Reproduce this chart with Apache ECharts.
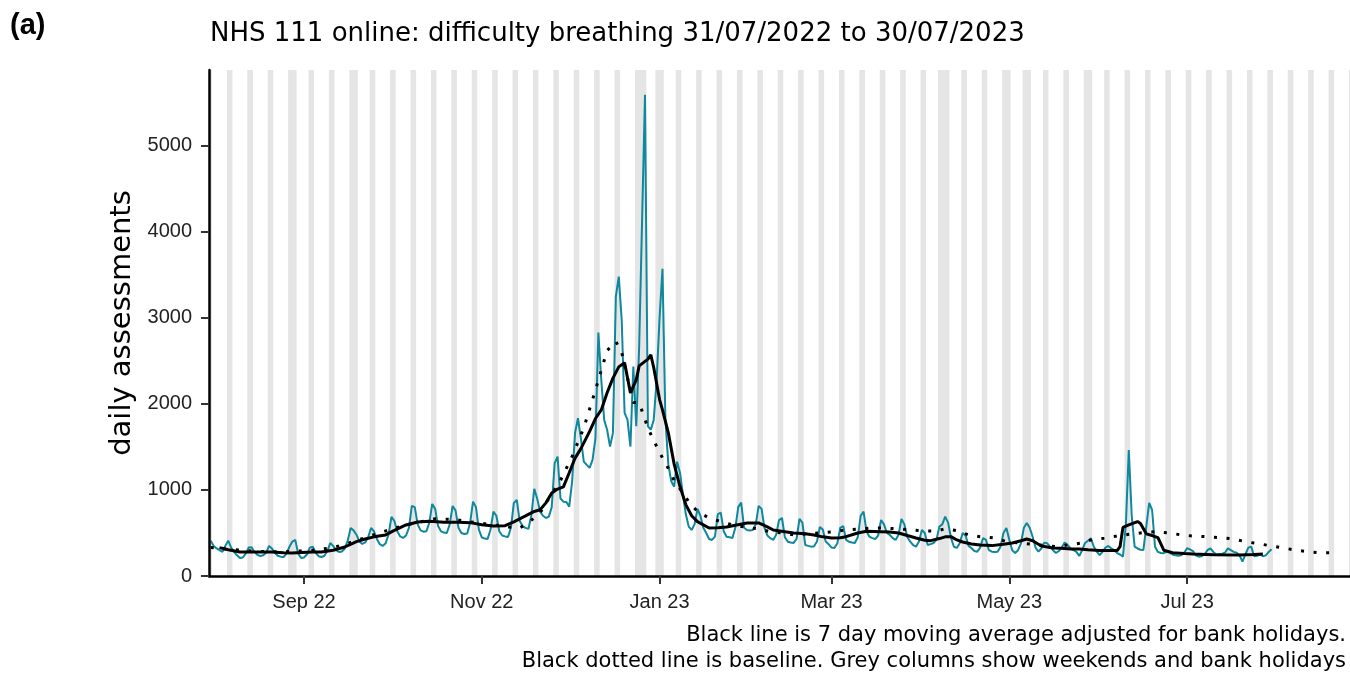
<!DOCTYPE html>
<html>
<head>
<meta charset="utf-8">
<script src="https://cdn.jsdelivr.net/npm/echarts@6/dist/echarts.min.js"></script>
<style>
  html, body { margin: 0; padding: 0; background: #fff; }
  #chart { width: 1350px; height: 674px; }
</style>
</head>
<body>
<div id="chart"></div>
<script>
// day 0 = Sun 31/07/2022; daily values then one row per week (Mon..Sun)
const startDate = '2022-07-31';
const daily = [
  410,
  350, 320, 300, 280, 350, 410, 330,
  280, 240, 210, 215, 260, 330, 335,
  280, 245, 233, 240, 270, 350, 320,
  270, 235, 225, 221, 260, 340, 400,
  419, 260, 209, 215, 250, 330, 341,
  270, 230, 221, 235, 290, 383, 350,
  300, 279, 285, 320, 410, 558, 530,
  480, 400, 372, 390, 450, 558, 520,
  430, 370, 349, 380, 480, 686, 640,
  520, 460, 442, 470, 560, 814, 800,
  600, 530, 515, 520, 620, 837, 780,
  580, 520, 505, 500, 600, 814, 760,
  560, 500, 488, 495, 620, 864, 800,
  540, 450, 435, 430, 540, 748, 700,
  520, 470, 460, 453, 560, 850, 884,
  640, 580, 560, 547, 700, 1012, 900,
  748, 700, 674, 690, 800, 1310, 1387,
  900, 864, 860, 806, 1100, 1663, 1833,
  1600, 1330, 1291, 1256, 1350, 1600, 2829,
  2279, 1814, 1700, 1504, 1663, 3248, 3480,
  2977, 1895, 1814, 1504, 2434, 1740, 2666,
  4130, 5593, 1740, 1700, 1814, 2279, 3000,
  3570, 1814, 1300, 1100, 1038, 1329, 1200,
  950, 720, 574, 535, 600, 779, 700,
  560, 500, 430, 419, 457, 720, 736,
  520, 457, 450, 442, 560, 800, 853,
  560, 535, 530, 535, 600, 814, 780,
  558, 470, 440, 419, 480, 650, 674,
  450, 399, 390, 384, 430, 663, 620,
  360, 350, 341, 345, 400, 570, 540,
  400, 370, 330, 326, 380, 560, 581,
  420, 399, 390, 384, 450, 700, 748,
  520, 457, 440, 430, 470, 651, 600,
  500, 477, 440, 419, 480, 663, 600,
  450, 399, 360, 341, 400, 535, 500,
  360, 370, 384, 420, 574, 600, 690,
  620, 442, 340, 326, 380, 500, 470,
  350, 326, 290, 283, 330, 442, 420,
  300, 283, 280, 283, 340, 500, 558,
  420, 300, 267, 300, 380, 560, 616,
  560, 457, 330, 283, 320, 388, 380,
  341, 300, 267, 290, 330, 388, 360,
  320, 302, 280, 233, 300, 384, 410,
  438, 340, 283, 244, 280, 330, 349,
  320, 302, 267, 250, 225, 600, 1465,
  700, 341, 320, 305, 302, 574, 849,
  767, 341, 280, 267, 265, 283, 270,
  250, 240, 235, 240, 270, 322, 310,
  290, 240, 225, 230, 250, 300, 322,
  280, 250, 255, 260, 270, 322, 300,
  280, 270, 240, 167, 250, 330, 341,
  230, 235, 250, 230, 240, 280, 310
];

// 7 day moving average, [day, value]
const movingAvg = [
  [3,330],[6,305],[10,280],[14,278],[18,280],[21,279],[25,270],[28,268],[31,272],[35,278],
  [38,280],[42,300],[46,337],[50,400],[53,430],[56,455],[60,477],[63,530],[67,593],[71,628],
  [75,635],[80,625],[85,625],[89,620],[93,595],[97,581],[101,585],[104,630],[108,698],[111,750],
  [113,770],[115,850],[117,965],[119,1010],[121,1035],[123,1200],[125,1370],[127,1480],[130,1680],
  [132,1830],[134,1930],[136,2130],[138,2300],[140,2430],[142,2477],[144,2128],[146,2280],[147,2442],
  [150,2520],[151,2570],[152,2420],[154,2050],[155,1930],[157,1663],[159,1300],[161,1040],[163,830],
  [165,700],[167,632],[171,558],[174,560],[177,570],[180,590],[184,616],[188,616],[191,570],
  [193,535],[197,515],[200,500],[204,490],[207,477],[210,455],[213,442],[216,445],[218,457],
  [222,500],[225,520],[230,515],[233,512],[236,500],[239,470],[242,442],[245,415],[247,411],
  [250,435],[252,455],[254,457],[256,419],[258,395],[261,372],[264,360],[268,353],[272,370],
  [275,384],[278,410],[280,430],[282,410],[285,349],[289,326],[292,322],[295,314],[298,314],
  [301,305],[305,295],[311,295],[312,341],[313,565],[315,593],[318,632],[319,610],[321,490],
  [323,470],[325,445],[327,300],[330,271],[334,262],[337,256],[344,248],[353,244],[358,250],[361,256]
];

// baseline, [day, value]
const baseline = [
  [0,330],[7,310],[14,290],[21,280],[28,285],[35,300],[42,330],[49,400],[56,480],[63,555],
  [70,615],[77,665],[84,655],[91,620],[98,590],[102,570],[106,558],[109,620],[113,733],[116,900],
  [120,1110],[124,1390],[128,1720],[132,2160],[136,2620],[139,2725],[141,2600],[143,2300],[145,2015],
  [147,2015],[150,1720],[153,1504],[155,1372],[157,1250],[159,1110],[164,864],[167,748],[171,674],
  [175,632],[179,593],[183,570],[188,547],[192,515],[196,500],[200,477],[205,490],[209,500],
  [214,515],[218,535],[223,547],[227,558],[231,558],[236,547],[240,535],[244,527],[249,520],
  [252,550],[256,527],[260,477],[264,457],[269,442],[273,399],[281,372],[290,341],[294,360],
  [299,384],[303,430],[307,438],[311,465],[316,488],[320,504],[324,515],[329,500],[333,477],
  [337,465],[342,457],[346,446],[351,430],[355,399],[360,372],[364,349],[368,326],[372,302],
  [377,279],[381,271],[386,271]
];

const bankHolidays = ['2022-08-29','2022-09-19','2022-12-26','2022-12-27','2023-01-02',
  '2023-04-07','2023-04-10','2023-05-01','2023-05-08','2023-05-29'];
const tickDates = ['2022-09-01','2022-11-01','2023-01-01','2023-03-01','2023-05-01','2023-07-01'];
const tickLabels = ['Sep 22','Nov 22','Jan 23','Mar 23','May 23','Jul 23'];
const yTicks = [0, 1000, 2000, 3000, 4000, 5000];

const dayMs = 86400000;
const t0 = Date.parse(startDate);
const dayIndex = s => Math.round((Date.parse(s) - t0) / dayMs);
const tickIdx = tickDates.map(dayIndex);
const holidayIdx = bankHolidays.map(dayIndex);
const xMin = -0.6, xMax = 390.9;

// grey columns: weekends + bank holidays
const isGrey = d => {
  const w = ((d % 7) + 7) % 7;
  return w === 6 || w === 0 || holidayIdx.includes(d);
};
const bands = [];
for (let d = -1; d <= 391; d++) {
  if (!isGrey(d)) continue;
  let e = d;
  while (e + 1 <= 391 && isGrey(e + 1)) e++;
  bands.push([{ xAxis: Math.max(xMin, d - 0.45) }, { xAxis: Math.min(xMax, e + 0.45) }]);
  d = e;
}

const myChart = echarts.init(document.getElementById('chart'), null, { renderer: 'canvas' });
const tickFont = 'Liberation Sans';
const textFont = 'DejaVu Sans';

myChart.setOption({
  animation: false,
  backgroundColor: '#fff',
  grid: { left: 209, right: 0, top: 70, bottom: 98, containLabel: false, outerBoundsMode: 'none' },
  xAxis: {
    type: 'value', min: xMin, max: xMax, z: 10,
    axisLine: { show: true, onZero: false, lineStyle: { color: '#000', width: 2.5 } },
    axisTick: { show: true, length: 8, customValues: tickIdx, lineStyle: { color: '#333', width: 2 } },
    axisLabel: {
      customValues: tickIdx,
      formatter: v => tickLabels[tickIdx.indexOf(Math.round(v))] || '',
      fontSize: 20, fontFamily: tickFont, color: '#222', margin: 16
    },
    splitLine: { show: false }
  },
  yAxis: {
    type: 'value', min: 0, max: 5880, z: 10,
    name: 'daily assessments', nameLocation: 'middle', nameRotate: 90, nameGap: 71,
    nameTextStyle: { fontSize: 29, fontFamily: textFont, color: '#000' },
    axisLine: { show: true, onZero: false, lineStyle: { color: '#000', width: 2.5 } },
    axisTick: { show: true, length: 8, customValues: yTicks, lineStyle: { color: '#333', width: 2 } },
    axisLabel: {
      customValues: yTicks, formatter: v => String(v),
      fontSize: 20, fontFamily: tickFont, color: '#222', margin: 17
    },
    splitLine: { show: false }
  },
  series: [
    {
      type: 'line', data: [], silent: true, z: 1,
      markArea: { silent: true, itemStyle: { color: '#E5E5E5' }, data: bands }
    },
    {
      type: 'line', z: 2, showSymbol: false, silent: true,
      data: daily.map((v, i) => [i, v]),
      lineStyle: { color: '#0F879C', width: 2 }
    },
    {
      type: 'line', z: 3, showSymbol: false, silent: true,
      data: baseline,
      lineStyle: { color: '#000', width: 3, type: [3, 9.6], cap: 'butt' }
    },
    {
      type: 'line', z: 4, showSymbol: false, silent: true,
      data: movingAvg,
      lineStyle: { color: '#000', width: 3 }
    }
  ],
  graphic: [
    { type: 'text', left: 10, top: 11, style: { text: '(a)', fontSize: 29, fontWeight: 'bold', fontFamily: tickFont, fill: '#000' } },
    { type: 'text', left: 210, top: 21, style: { text: 'NHS 111 online: difficulty breathing 31/07/2022 to 30/07/2023', fontSize: 26, fontFamily: textFont, fill: '#000' } },
    { type: 'text', right: 4, top: 625, style: { text: 'Black line is 7 day moving average adjusted for bank holidays.', fontSize: 21, fontFamily: textFont, fill: '#000' } },
    { type: 'text', right: 4, top: 651, style: { text: 'Black dotted line is baseline. Grey columns show weekends and bank holidays', fontSize: 21, fontFamily: textFont, fill: '#000' } }
  ]
});
</script>
</body>
</html>
